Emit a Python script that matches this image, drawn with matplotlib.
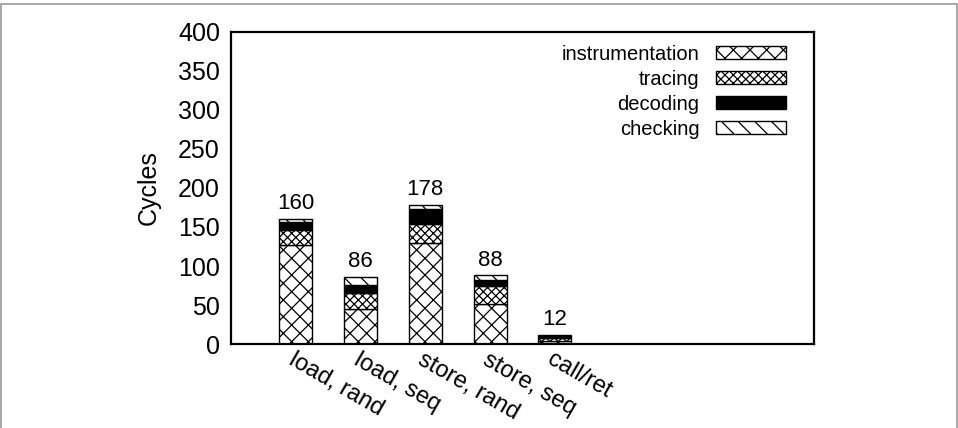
import numpy as np
import matplotlib
matplotlib.use("Agg")
import matplotlib.pyplot as plt
from matplotlib.patches import Rectangle

plt.rcParams['font.family'] = ['Liberation Sans', 'DejaVu Sans']
plt.rcParams['hatch.linewidth'] = 0.9

categories = ["load, rand", "load, seq", "store, rand", "store, seq", "call/ret"]
series = ["instrumentation", "tracing", "decoding", "checking"]

# cycles per component
instrumentation = [127, 45, 130, 52, 4]
tracing = [19, 21, 24, 23, 4]
decoding = [10, 10, 19, 7, 3]
checking = [4, 10, 5, 6, 1]
totals = [160, 86, 178, 88, 12]

yticks = [0, 50, 100, 150, 200, 250, 300, 350, 400]

fig = plt.figure(figsize=(9.58, 4.28), dpi=100)
ax = fig.add_axes([231 / 958, 1 - 344.3 / 428, (814 - 231) / 958, (344.3 - 31.5) / 428])

x = np.arange(len(categories))
w = 0.51
data = [instrumentation, tracing, decoding, checking]
hatches = ["xx", "xxxx", None, "\\\\"]
faces = ["white", "white", "black", "white"]
bottom = np.zeros(len(categories))
for name, vals, h, fc in zip(series, data, hatches, faces):
    ax.bar(x, vals, w, bottom=bottom, color=fc, edgecolor="black",
           hatch=h, linewidth=1.0, label=name)
    bottom += np.array(vals)

for xi, t in zip(x, totals):
    ax.text(xi, t + 6, str(t), ha="center", va="bottom", fontsize=16)

ax.set_xlim(-1.0, 8.0)
ax.set_ylim(0, 400)
ax.set_yticks(yticks)
ax.tick_params(axis="y", labelsize=18, length=0, pad=8)
ax.set_xticks(x)
ax.set_xticklabels(categories, rotation=-30, ha="left", rotation_mode="anchor",
                   fontsize=17)
ax.tick_params(axis="x", length=0, pad=3)
ax.set_ylabel("Cycles", fontsize=18, labelpad=12)
for s in ax.spines.values():
    s.set_linewidth(1.6)

leg = ax.legend(loc="upper right", bbox_to_anchor=(0.952, 0.958),
                markerfirst=False, frameon=False, borderpad=0, borderaxespad=0,
                fontsize=14.5, handlelength=3.5, handleheight=0.6,
                labelspacing=0.3, handletextpad=0.8)

# page frame
fig.patches.append(Rectangle((0.001, -0.1), 0.998, 1.09, transform=fig.transFigure,
                             fill=False, edgecolor="#9a9a9a", linewidth=1.2))

fig.savefig("out.png", dpi=100)
